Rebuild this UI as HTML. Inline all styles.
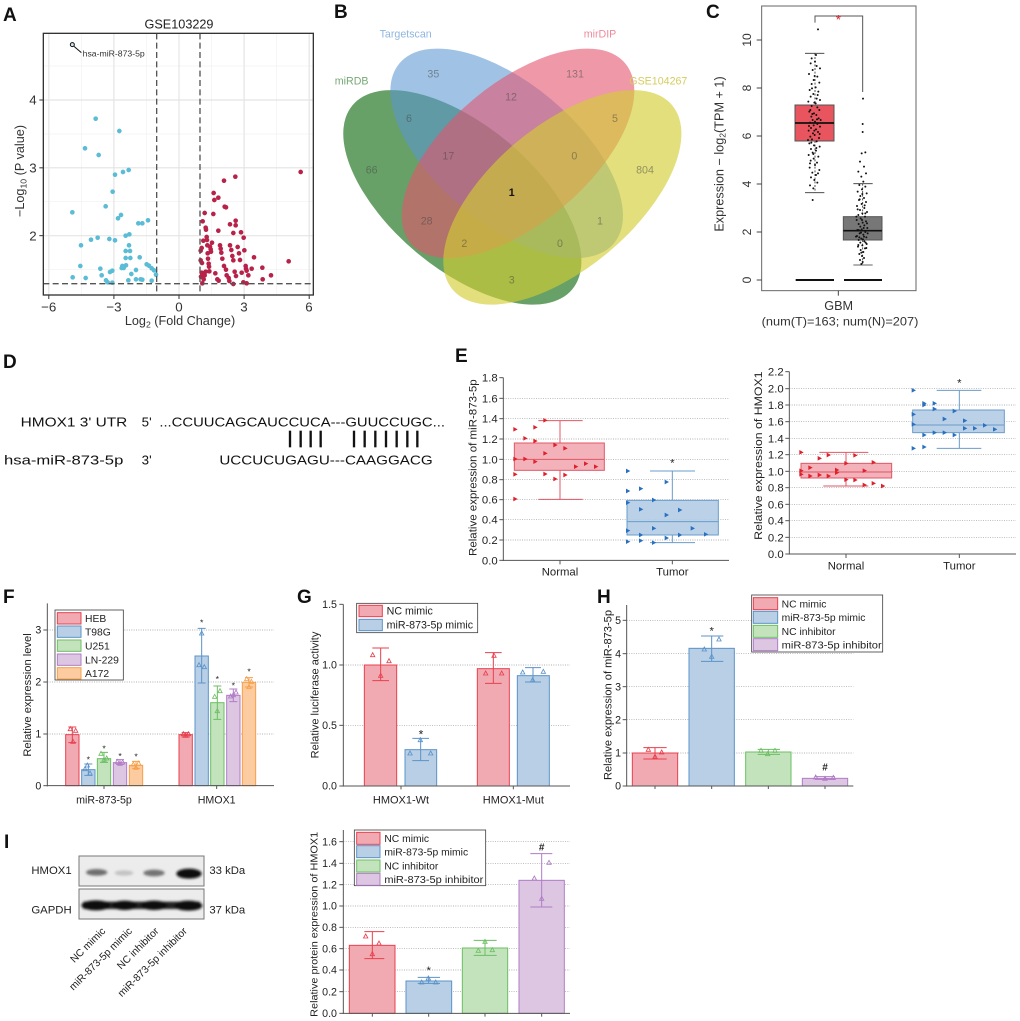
<!DOCTYPE html>
<html><head><meta charset="utf-8"><style>
html,body{margin:0;padding:0;background:#fff;}
svg{display:block;}
text{font-family:"Liberation Sans",Arial,sans-serif;}
</style></head><body>
<svg width="1020" height="1021" viewBox="0 0 1020 1021" xmlns="http://www.w3.org/2000/svg">
<defs>
<path id="tr" d="M-5,-7L8,0L-5,7Z"/>
<path id="ut" d="M0,-7L6.5,5L-6.5,5Z"/>
<filter id="bl" x="-50%" y="-100%" width="200%" height="300%"><feGaussianBlur stdDeviation="4"/></filter>
</defs>
<rect width="1020" height="1021" fill="#fff"/>

<g font-weight="bold" font-size="19" fill="#111">
<text x="3" y="21">A</text>
<text x="334" y="18">B</text>
<text x="706" y="18">C</text>
<text x="3" y="368">D</text>
<text x="455" y="362">E</text>
<text x="3" y="603">F</text>
<text x="297" y="603">G</text>
<text x="597" y="603">H</text>
<text x="4" y="848">I</text>
</g>

<!-- ================= PANEL A ================= -->
<svg x="0" y="0" width="330" height="330" viewBox="0 0 990 990" overflow="visible">
<rect x="130" y="100" width="810" height="785" fill="#fff"/>
<g stroke="#f1f1f1" stroke-width="2">
<line x1="244" y1="100" x2="244" y2="885"/><line x1="439.4" y1="100" x2="439.4" y2="885"/>
<line x1="634.7" y1="100" x2="634.7" y2="885"/><line x1="830" y1="100" x2="830" y2="885"/>
<line x1="130" y1="198" x2="940" y2="198"/><line x1="130" y1="402" x2="940" y2="402"/>
<line x1="130" y1="605" x2="940" y2="605"/><line x1="130" y1="809" x2="940" y2="809"/>
</g>
<g stroke="#e4e4e4" stroke-width="3.5">
<line x1="146.4" y1="100" x2="146.4" y2="885"/><line x1="341.7" y1="100" x2="341.7" y2="885"/>
<line x1="537" y1="100" x2="537" y2="885"/><line x1="732.3" y1="100" x2="732.3" y2="885"/>
<line x1="927.6" y1="100" x2="927.6" y2="885"/>
<line x1="130" y1="300" x2="940" y2="300"/><line x1="130" y1="503.5" x2="940" y2="503.5"/>
<line x1="130" y1="707" x2="940" y2="707"/>
</g>
<path fill="none" stroke="#5bbcd6" stroke-width="14" stroke-linecap="round" d="M255 445h0M296 465h0M287 356h0M358 393h0M345 524h0M369 516h0M386 510h0M338 575h0M317 619h0M354 655h0M363 645h0M217 637h0M243 736h0M273 719h0M293 713h0M328 717h0M345 721h0M377 707h0M388 703h0M415 670h0M427 670h0M444 661h0M387 736h0M377 753h0M390 753h0M377 774h0M391 774h0M419 772h0M241 798h0M301 806h0M305 826h0M330 816h0M337 812h0M367 798h0M378 796h0M365 804h0M371 804h0M408 810h0M394 822h0M440 793h0M447 797h0M455 805h0M462 811h0M468 824h0M218 832h0M257 834h0M318 841h0M323 847h0M337 848h0M385 841h0M408 838h0M422 838h0M427 839h0M455 842h0"/>
<path fill="none" stroke="#b82248" stroke-width="14" stroke-linecap="round" d="M605 744h0M602 752h0M602 781h0M606 789h0M605 818h0M603 830h0M607 850h0M611 838h0M614 826h0M617 815h0M610 722h0M608 664h0M614 639h0M617 683h0M618 689h0M620 711h0M621 720h0M622 736h0M623 760h0M624 776h0M626 791h0M627 800h0M628 814h0M630 740h0M632 748h0M633 755h0M636 728h0M640 642h0M641 579h0M643 600h0M655 593h0M672 542h0M674 620h0M678 622h0M655 692h0M660 736h0M662 746h0M664 758h0M667 776h0M672 798h0M678 809h0M680 826h0M686 834h0M688 843h0M690 736h0M694 750h0M697 768h0M700 781h0M704 815h0M708 828h0M690 673h0M700 699h0M706 530h0M707 662h0M707 676h0M713 741h0M717 760h0M720 780h0M725 818h0M730 847h0M733 751h0M737 798h0M740 812h0M745 826h0M755 806h0M762 772h0M787 803h0M788 838h0M813 826h0M866 784h0M902 516h0M723 697h0M731 713h0M646 820h0M652 838h0M656 842h0M700 852h0M740 850h0M738 806h0"/>
<g stroke="#555" stroke-width="4" stroke-dasharray="18 10" fill="none">
<line x1="470" y1="100" x2="470" y2="885"/>
<line x1="600" y1="100" x2="600" y2="885"/>
<line x1="130" y1="851" x2="940" y2="851"/>
</g>
<circle cx="217" cy="134" r="6" fill="#cfeaf2" stroke="#111" stroke-width="3"/>
<line x1="222" y1="139" x2="244" y2="158" stroke="#111" stroke-width="3"/>
<text x="248" y="170" font-size="26" fill="#333">hsa-miR-873-5p</text>
<rect x="130" y="100" width="810" height="785" fill="none" stroke="#333" stroke-width="4"/>
<g stroke="#333" stroke-width="3">
<line x1="146.4" y1="885" x2="146.4" y2="897"/><line x1="341.7" y1="885" x2="341.7" y2="897"/>
<line x1="537" y1="885" x2="537" y2="897"/><line x1="732.3" y1="885" x2="732.3" y2="897"/>
<line x1="927.6" y1="885" x2="927.6" y2="897"/>
<line x1="118" y1="300" x2="130" y2="300"/><line x1="118" y1="503.5" x2="130" y2="503.5"/><line x1="118" y1="707" x2="130" y2="707"/>
</g>
<g font-size="40" fill="#333" text-anchor="middle">
<text x="146" y="935">−6</text><text x="342" y="935">−3</text><text x="537" y="935">0</text><text x="732" y="935">3</text><text x="927" y="935">6</text>
</g>
<g font-size="40" fill="#333" text-anchor="end">
<text x="110" y="314">4</text><text x="110" y="517">3</text><text x="110" y="721">2</text>
</g>
<text x="537" y="86" font-size="38" fill="#222" text-anchor="middle">GSE103229</text>
<text x="540" y="975" font-size="38" fill="#333" text-anchor="middle">Log<tspan font-size="26" dy="8">2</tspan><tspan dy="-8"> (Fold Change)</tspan></text>
<text transform="translate(72,513) rotate(-90)" font-size="38" fill="#333" text-anchor="middle">−Log<tspan font-size="26" dy="8">10</tspan><tspan dy="-8"> (P value)</tspan></text>
</svg>

<!-- ================= PANEL B ================= -->
<svg x="330" y="0" width="360" height="330" viewBox="0 0 1080 990" overflow="visible">
<ellipse cx="397" cy="592" rx="430" ry="215" transform="rotate(40 397 592)" fill="rgb(45,125,45)" fill-opacity="0.72"/>
<ellipse cx="530" cy="460" rx="420" ry="210" transform="rotate(40 530 460)" fill="rgb(90,150,210)" fill-opacity="0.58"/>
<ellipse cx="564" cy="460" rx="420" ry="210" transform="rotate(-40 564 460)" fill="rgb(228,85,110)" fill-opacity="0.6"/>
<ellipse cx="697" cy="592" rx="430" ry="215" transform="rotate(-40 697 592)" fill="rgb(210,205,50)" fill-opacity="0.64"/>
<g font-size="32" fill="#444" fill-opacity="0.5" text-anchor="middle">
<text x="310" y="232">35</text><text x="735" y="232">131</text><text x="543" y="301">12</text>
<text x="237" y="366">6</text><text x="855" y="366">5</text><text x="125" y="521">66</text>
<text x="355" y="478">17</text><text x="733" y="478">0</text><text x="945" y="521">804</text>
<text x="290" y="674">28</text><text x="810" y="674">1</text><text x="403" y="741">2</text>
<text x="690" y="741">0</text><text x="545" y="851">3</text>
</g>
<text x="545" y="588" font-size="32" font-weight="bold" fill="#111" text-anchor="middle">1</text>
<g font-size="32" text-anchor="middle">
<text x="227" y="112" fill="#8fb6e0">Targetscan</text>
<text x="810" y="112" fill="#ef8a9c">mirDIP</text>
<text x="65" y="254" fill="#74a874">miRDB</text>
<text x="985" y="254" fill="#d6cc5e">GSE104267</text>
</g>
</svg>

<!-- ================= PANEL C ================= -->
<svg x="680" y="0" width="340" height="335" viewBox="0 0 1020 1005" overflow="visible">
<rect x="245" y="18" width="463" height="854" fill="#fff" stroke="#666" stroke-width="3"/>
<g stroke="#444" stroke-width="3">
<line x1="230" y1="120" x2="245" y2="120"/><line x1="230" y1="264" x2="245" y2="264"/>
<line x1="230" y1="408" x2="245" y2="408"/><line x1="230" y1="552" x2="245" y2="552"/>
<line x1="230" y1="696" x2="245" y2="696"/><line x1="230" y1="840" x2="245" y2="840"/>
<line x1="475" y1="872" x2="475" y2="887"/>
</g>
<g font-size="36" fill="#333" text-anchor="middle">
<text transform="translate(213,120) rotate(-90)">10</text>
<text transform="translate(213,264) rotate(-90)">8</text>
<text transform="translate(213,408) rotate(-90)">6</text>
<text transform="translate(213,552) rotate(-90)">4</text>
<text transform="translate(213,696) rotate(-90)">2</text>
<text transform="translate(213,840) rotate(-90)">0</text>
</g>
<text transform="translate(130,462) rotate(-90)" font-size="38" fill="#333" text-anchor="middle">Expression − log<tspan font-size="26" dy="6">2</tspan><tspan dy="-6">(TPM + 1)</tspan></text>
<text x="476" y="930" font-size="38" fill="#333" text-anchor="middle">GBM</text>
<text x="480" y="976" font-size="36" fill="#333" text-anchor="middle" textLength="470" lengthAdjust="spacingAndGlyphs">(num(T)=163; num(N)=207)</text>
<!-- whiskers -->
<g stroke="#333" stroke-width="2.5">
<line x1="405" y1="160" x2="405" y2="315" stroke-dasharray="6 5"/>
<line x1="405" y1="423" x2="405" y2="578" stroke-dasharray="6 5"/>
<line x1="375" y1="160" x2="433" y2="160"/><line x1="375" y1="578" x2="433" y2="578"/>
<line x1="548" y1="551" x2="548" y2="650" stroke-dasharray="6 5"/>
<line x1="548" y1="720" x2="548" y2="795" stroke-dasharray="6 5"/>
<line x1="520" y1="551" x2="578" y2="551"/><line x1="520" y1="795" x2="578" y2="795"/>
</g>
<rect x="345" y="315" width="117" height="108" fill="#e8555f" stroke="#555" stroke-width="3"/>
<rect x="490" y="650" width="116" height="70" fill="#777" stroke="#555" stroke-width="3"/>
<line x1="345" y1="369" x2="462" y2="369" stroke="#111" stroke-width="5"/>
<line x1="490" y1="692" x2="606" y2="692" stroke="#111" stroke-width="5"/>
<line x1="347" y1="840" x2="462" y2="840" stroke="#111" stroke-width="6"/>
<line x1="492" y1="840" x2="606" y2="840" stroke="#111" stroke-width="6"/>
<path fill="none" stroke="#111" stroke-width="6" stroke-linecap="round" d="M414 88h0M405 185h0M392 190h0M410 198h0M398 210h0M420 205h0M387 222h0M412 230h0M401 240h0M395 252h0M418 248h0M407 262h0M389 270h0M415 275h0M400 282h0M392 290h0M410 296h0M420 300h0M385 305h0M403 308h0M395 318h0M412 322h0M418 330h0M388 335h0M402 340h0M409 345h0M394 350h0M416 355h0M398 360h0M405 365h0M390 368h0M412 372h0M401 376h0M420 380h0M393 384h0M408 388h0M386 392h0M414 396h0M399 400h0M404 405h0M391 410h0M417 414h0M396 418h0M410 424h0M388 430h0M402 436h0M419 440h0M393 447h0M408 452h0M398 458h0M386 465h0M415 470h0M401 476h0M392 482h0M411 488h0M405 495h0M389 503h0M418 510h0M397 518h0M408 525h0M393 532h0M403 540h0M412 548h0M390 556h0M400 565h0M398 600h0M384 420h0M422 360h0M391 330h0M407 310h0M413 285h0M396 265h0M404 228h0M395 175h0M408 165h0M397 342h0M411 358h0M387 378h0M403 392h0M419 402h0M394 428h0M409 444h0M400 462h0M390 490h0M414 520h0"/>
<path fill="none" stroke="#111" stroke-width="6" stroke-linecap="round" d="M549 296h0M548 372h0M548 396h0M545 460h0M556 457h0M540 485h0M552 500h0M535 515h0M558 520h0M544 530h0M550 545h0M538 555h0M556 560h0M546 568h0M533 575h0M560 580h0M541 588h0M552 594h0M537 600h0M558 606h0M545 612h0M531 618h0M553 624h0M540 630h0M561 636h0M547 640h0M535 645h0M555 650h0M542 655h0M530 660h0M558 664h0M548 668h0M536 672h0M553 676h0M541 680h0M562 684h0M545 688h0M533 692h0M556 696h0M539 700h0M550 704h0M531 708h0M559 712h0M544 716h0M536 720h0M553 724h0M541 728h0M560 732h0M547 736h0M534 740h0M555 745h0M542 750h0M550 756h0M538 762h0M546 768h0M552 774h0M540 780h0M548 786h0M544 792h0M556 640h0M532 690h0M563 700h0M528 710h0M546 660h0M551 684h0M538 712h0M557 728h0M543 698h0M549 718h0M535 735h0M561 670h0M529 650h0M554 616h0M539 598h0M547 582h0M533 628h0M559 744h0M544 758h0M552 710h0M536 690h0"/>
<path d="M405 68V48H548V276" fill="none" stroke="#555" stroke-width="3"/>
<text x="475" y="72" font-size="40" fill="#e8202a" text-anchor="middle">*</text>
</svg>

<!-- ================= PANEL D ================= -->
<svg x="0" y="335" width="460" height="250" viewBox="0 0 1380 750" overflow="visible">
<g font-size="40" fill="#111">
<text x="62" y="275" textLength="320" lengthAdjust="spacingAndGlyphs">HMOX1 3' UTR</text>
<text x="425" y="275">5'</text>
<text x="478" y="275" textLength="857" lengthAdjust="spacingAndGlyphs">...CCUUCAGCAUCCUCA---GUUCCUGC...</text>
<text x="12" y="388" textLength="358" lengthAdjust="spacingAndGlyphs">hsa-miR-873-5p</text>
<text x="425" y="388">3'</text>
<text x="658" y="388" textLength="640" lengthAdjust="spacingAndGlyphs">UCCUCUGAGU---CAAGGACG</text>
</g>
<g stroke="#111" stroke-width="7">
<line x1="870" y1="287" x2="870" y2="337"/><line x1="902" y1="287" x2="902" y2="337"/>
<line x1="932" y1="287" x2="932" y2="337"/><line x1="962" y1="287" x2="962" y2="337"/>
<line x1="1062" y1="287" x2="1062" y2="337"/><line x1="1094" y1="287" x2="1094" y2="337"/>
<line x1="1126" y1="287" x2="1126" y2="337"/><line x1="1158" y1="287" x2="1158" y2="337"/>
<line x1="1190" y1="287" x2="1190" y2="337"/><line x1="1222" y1="287" x2="1222" y2="337"/>
<line x1="1252" y1="287" x2="1252" y2="337"/>
</g>
</svg>

<!-- ================= PANEL E left ================= -->
<svg x="455" y="335" width="290" height="255" viewBox="0 0 870 765" overflow="visible">
<g stroke="#999" stroke-width="2" stroke-dasharray="3 4">
<line x1="145" y1="190" x2="822" y2="190"/><line x1="145" y1="251" x2="822" y2="251"/>
<line x1="145" y1="312" x2="822" y2="312"/><line x1="145" y1="373" x2="822" y2="373"/>
<line x1="145" y1="434" x2="822" y2="434"/><line x1="145" y1="494" x2="822" y2="494"/>
<line x1="145" y1="554" x2="822" y2="554"/><line x1="145" y1="615" x2="822" y2="615"/>
</g>
<g stroke="#555" stroke-width="3">
<line x1="145" y1="128" x2="145" y2="678"/><line x1="143" y1="676" x2="822" y2="676"/>
<line x1="133" y1="128" x2="145" y2="128"/><line x1="133" y1="190" x2="145" y2="190"/><line x1="133" y1="251" x2="145" y2="251"/>
<line x1="133" y1="312" x2="145" y2="312"/><line x1="133" y1="373" x2="145" y2="373"/><line x1="133" y1="434" x2="145" y2="434"/>
<line x1="133" y1="494" x2="145" y2="494"/><line x1="133" y1="554" x2="145" y2="554"/><line x1="133" y1="615" x2="145" y2="615"/>
<line x1="133" y1="676" x2="145" y2="676"/>
<line x1="315" y1="676" x2="315" y2="688"/><line x1="652" y1="676" x2="652" y2="688"/>
</g>
<g font-size="34" fill="#222" text-anchor="end">
<text x="128" y="140">1.8</text><text x="128" y="202">1.6</text><text x="128" y="263">1.4</text>
<text x="128" y="324">1.2</text><text x="128" y="385">1.0</text><text x="128" y="446">0.8</text>
<text x="128" y="506">0.6</text><text x="128" y="566">0.4</text><text x="128" y="627">0.2</text>
<text x="128" y="688">0.0</text>
</g>
<g font-size="34" fill="#222" text-anchor="middle">
<text x="315" y="722">Normal</text><text x="652" y="722">Tumor</text>
</g>
<text transform="translate(64,398) rotate(-90)" font-size="32" fill="#222" text-anchor="middle" textLength="530" lengthAdjust="spacingAndGlyphs">Relative expression of miR-873-5p</text>
<g stroke="#e05866" stroke-width="3">
<line x1="315" y1="257" x2="315" y2="324"/><line x1="315" y1="406" x2="315" y2="493"/>
<line x1="250" y1="257" x2="383" y2="257"/><line x1="250" y1="493" x2="383" y2="493"/>
<rect x="178" y="324" width="270" height="82" fill="#f2a9b2" fill-opacity="0.9"/>
<line x1="178" y1="373" x2="448" y2="373"/>
</g>
<g stroke="#6a9ccc" stroke-width="3">
<line x1="652" y1="408" x2="652" y2="496"/><line x1="652" y1="600" x2="652" y2="623"/>
<line x1="585" y1="408" x2="720" y2="408"/><line x1="585" y1="623" x2="720" y2="623"/>
<rect x="516" y="496" width="274" height="104" fill="#b3cce6" fill-opacity="0.9"/>
<line x1="516" y1="560" x2="790" y2="560"/>
</g>
<g fill="#e0202a">
<use href="#tr" x="180" y="283"/><use href="#tr" x="210" y="310"/><use href="#tr" x="240" y="277"/><use href="#tr" x="240" y="318"/>
<use href="#tr" x="270" y="256"/><use href="#tr" x="270" y="355"/><use href="#tr" x="300" y="330"/><use href="#tr" x="330" y="340"/>
<use href="#tr" x="180" y="372"/><use href="#tr" x="210" y="372"/><use href="#tr" x="240" y="380"/><use href="#tr" x="180" y="418"/>
<use href="#tr" x="270" y="417"/><use href="#tr" x="300" y="432"/><use href="#tr" x="330" y="420"/><use href="#tr" x="362" y="395"/>
<use href="#tr" x="392" y="386"/><use href="#tr" x="422" y="395"/><use href="#tr" x="180" y="492"/>
</g>
<g fill="#2a70c0">
<use href="#tr" x="518" y="408"/><use href="#tr" x="518" y="468"/><use href="#tr" x="518" y="503"/><use href="#tr" x="518" y="587"/>
<use href="#tr" x="518" y="620"/><use href="#tr" x="557" y="461"/><use href="#tr" x="557" y="523"/><use href="#tr" x="557" y="600"/>
<use href="#tr" x="557" y="617"/><use href="#tr" x="596" y="495"/><use href="#tr" x="596" y="580"/><use href="#tr" x="596" y="623"/>
<use href="#tr" x="634" y="441"/><use href="#tr" x="634" y="540"/><use href="#tr" x="634" y="609"/><use href="#tr" x="674" y="525"/>
<use href="#tr" x="674" y="600"/><use href="#tr" x="712" y="580"/><use href="#tr" x="752" y="598"/>
</g>
<text x="652" y="394" font-size="34" fill="#222" text-anchor="middle">*</text>
</svg>

<!-- ================= PANEL E right ================= -->
<svg x="740" y="335" width="280" height="255" viewBox="0 0 840 765" overflow="visible">
<g stroke="#999" stroke-width="2" stroke-dasharray="3 4">
<line x1="148" y1="161" x2="828" y2="161"/><line x1="148" y1="210" x2="828" y2="210"/>
<line x1="148" y1="260" x2="828" y2="260"/><line x1="148" y1="310" x2="828" y2="310"/>
<line x1="148" y1="359" x2="828" y2="359"/><line x1="148" y1="409" x2="828" y2="409"/>
<line x1="148" y1="458" x2="828" y2="458"/><line x1="148" y1="508" x2="828" y2="508"/>
<line x1="148" y1="557" x2="828" y2="557"/><line x1="148" y1="607" x2="828" y2="607"/>
</g>
<g stroke="#555" stroke-width="3">
<line x1="148" y1="110" x2="148" y2="659"/><line x1="146" y1="657" x2="828" y2="657"/>
<line x1="136" y1="110" x2="148" y2="110"/><line x1="136" y1="161" x2="148" y2="161"/><line x1="136" y1="210" x2="148" y2="210"/>
<line x1="136" y1="260" x2="148" y2="260"/><line x1="136" y1="310" x2="148" y2="310"/><line x1="136" y1="359" x2="148" y2="359"/>
<line x1="136" y1="409" x2="148" y2="409"/><line x1="136" y1="458" x2="148" y2="458"/><line x1="136" y1="508" x2="148" y2="508"/>
<line x1="136" y1="557" x2="148" y2="557"/><line x1="136" y1="607" x2="148" y2="607"/><line x1="136" y1="657" x2="148" y2="657"/>
<line x1="318" y1="657" x2="318" y2="669"/><line x1="658" y1="657" x2="658" y2="669"/>
</g>
<g font-size="34" fill="#222" text-anchor="end">
<text x="131" y="122">2.2</text><text x="131" y="173">2.0</text><text x="131" y="222">1.8</text>
<text x="131" y="272">1.6</text><text x="131" y="322">1.4</text><text x="131" y="371">1.2</text>
<text x="131" y="421">1.0</text><text x="131" y="470">0.8</text><text x="131" y="520">0.6</text>
<text x="131" y="569">0.4</text><text x="131" y="619">0.2</text><text x="131" y="669">0.0</text>
</g>
<g font-size="34" fill="#222" text-anchor="middle">
<text x="318" y="703">Normal</text><text x="658" y="703">Tumor</text>
</g>
<text transform="translate(66,362) rotate(-90)" font-size="32" fill="#222" text-anchor="middle" textLength="505" lengthAdjust="spacingAndGlyphs">Relative expression of HMOX1</text>
<g stroke="#e05866" stroke-width="3">
<line x1="318" y1="352" x2="318" y2="385"/><line x1="318" y1="429" x2="318" y2="453"/>
<line x1="238" y1="352" x2="385" y2="352"/><line x1="250" y1="453" x2="385" y2="453"/>
<rect x="183" y="385" width="272" height="44" fill="#f2a9b2" fill-opacity="0.9"/>
<line x1="183" y1="411" x2="455" y2="411"/>
</g>
<g stroke="#6a9ccc" stroke-width="3">
<line x1="658" y1="166" x2="658" y2="225"/><line x1="658" y1="293" x2="658" y2="340"/>
<line x1="590" y1="166" x2="724" y2="166"/><line x1="590" y1="340" x2="724" y2="340"/>
<rect x="518" y="225" width="275" height="68" fill="#b3cce6" fill-opacity="0.9"/>
<line x1="518" y1="270" x2="793" y2="270"/>
</g>
<g fill="#e0202a">
<use href="#tr" x="183" y="352"/><use href="#tr" x="183" y="407"/><use href="#tr" x="183" y="418"/><use href="#tr" x="210" y="398"/>
<use href="#tr" x="210" y="423"/><use href="#tr" x="238" y="370"/><use href="#tr" x="238" y="420"/><use href="#tr" x="265" y="360"/>
<use href="#tr" x="265" y="423"/><use href="#tr" x="290" y="405"/><use href="#tr" x="290" y="413"/><use href="#tr" x="318" y="385"/>
<use href="#tr" x="318" y="434"/><use href="#tr" x="345" y="361"/><use href="#tr" x="345" y="435"/><use href="#tr" x="373" y="407"/>
<use href="#tr" x="373" y="450"/><use href="#tr" x="400" y="382"/><use href="#tr" x="400" y="445"/><use href="#tr" x="428" y="453"/>
</g>
<g fill="#2a70c0">
<use href="#tr" x="520" y="166"/><use href="#tr" x="520" y="238"/><use href="#tr" x="520" y="268"/><use href="#tr" x="520" y="340"/>
<use href="#tr" x="552" y="205"/><use href="#tr" x="552" y="210"/><use href="#tr" x="552" y="300"/><use href="#tr" x="552" y="336"/>
<use href="#tr" x="583" y="205"/><use href="#tr" x="583" y="222"/><use href="#tr" x="583" y="293"/><use href="#tr" x="613" y="252"/>
<use href="#tr" x="613" y="293"/><use href="#tr" x="643" y="228"/><use href="#tr" x="643" y="300"/><use href="#tr" x="674" y="257"/>
<use href="#tr" x="674" y="280"/><use href="#tr" x="704" y="280"/><use href="#tr" x="734" y="271"/><use href="#tr" x="764" y="283"/>
</g>
<text x="658" y="155" font-size="34" fill="#222" text-anchor="middle">*</text>
</svg>

<!-- ================= PANEL F ================= -->
<svg x="0" y="585" width="300" height="240" viewBox="0 0 900 720" overflow="visible">
<g stroke="#999" stroke-width="2" stroke-dasharray="3 4">
<line x1="142" y1="447" x2="822" y2="447"/><line x1="142" y1="291" x2="822" y2="291"/><line x1="142" y1="135" x2="822" y2="135"/>
</g>
<g stroke-width="3">
<rect x="197" y="449" width="40" height="153" fill="#f2aab2" stroke="#e8404e"/>
<rect x="245" y="554" width="40" height="48" fill="#b8cfe6" stroke="#5b93c9"/>
<rect x="292" y="521" width="40" height="81" fill="#c3e3bd" stroke="#6cbf63"/>
<rect x="340" y="533" width="40" height="69" fill="#dcc6e2" stroke="#b07cc6"/>
<rect x="388" y="541" width="40" height="61" fill="#fccca0" stroke="#f7a04a"/>
<rect x="537" y="449" width="40" height="153" fill="#f2aab2" stroke="#e8404e"/>
<rect x="585" y="213" width="40" height="389" fill="#b8cfe6" stroke="#5b93c9"/>
<rect x="632" y="353" width="40" height="249" fill="#c3e3bd" stroke="#6cbf63"/>
<rect x="680" y="331" width="40" height="271" fill="#dcc6e2" stroke="#b07cc6"/>
<rect x="727" y="292" width="40" height="310" fill="#fccca0" stroke="#f7a04a"/>
</g>
<g stroke-width="3" fill="none">
<path stroke="#e8404e" d="M217 426V473M205 426H229M205 473H229M557 443V456M545 443H569M545 456H569"/>
<path stroke="#5b93c9" d="M265 537V571M253 537H277M253 571H277M605 130V294M593 130H617M593 294H617"/>
<path stroke="#6cbf63" d="M312 502V532M300 502H324M300 532H324M652 303V403M640 303H664M640 403H664"/>
<path stroke="#b07cc6" d="M360 524V538M348 524H372M348 538H372M700 312V350M688 312H712M688 350H712"/>
<path stroke="#f7a04a" d="M408 529V550M396 529H420M396 550H420M747 278V306M735 278H759M735 306H759"/>
</g>
<g fill="none" stroke-width="2.5">
<g stroke="#e8404e"><use href="#ut" x="211" y="432"/><use href="#ut" x="227" y="437"/><use href="#ut" x="219" y="470"/><use href="#ut" x="550" y="447"/><use href="#ut" x="565" y="447"/><use href="#ut" x="557" y="452"/></g>
<g stroke="#5b93c9"><use href="#ut" x="255" y="552"/><use href="#ut" x="270" y="565"/><use href="#ut" x="262" y="541"/><use href="#ut" x="597" y="240"/><use href="#ut" x="613" y="246"/><use href="#ut" x="605" y="145"/></g>
<g stroke="#6cbf63"><use href="#ut" x="303" y="506"/><use href="#ut" x="320" y="520"/><use href="#ut" x="312" y="524"/><use href="#ut" x="644" y="335"/><use href="#ut" x="660" y="318"/><use href="#ut" x="652" y="378"/></g>
<g stroke="#b07cc6"><use href="#ut" x="352" y="530"/><use href="#ut" x="368" y="532"/><use href="#ut" x="360" y="536"/><use href="#ut" x="692" y="334"/><use href="#ut" x="708" y="322"/><use href="#ut" x="700" y="330"/></g>
<g stroke="#f7a04a"><use href="#ut" x="400" y="538"/><use href="#ut" x="416" y="535"/><use href="#ut" x="408" y="548"/><use href="#ut" x="740" y="282"/><use href="#ut" x="754" y="290"/><use href="#ut" x="747" y="306"/></g>
</g>
<g font-size="26" fill="#222" text-anchor="middle">
<text x="265" y="532">*</text><text x="312" y="500">*</text><text x="360" y="522">*</text><text x="408" y="524">*</text>
<text x="605" y="122">*</text><text x="652" y="291">*</text><text x="700" y="311">*</text><text x="747" y="268">*</text>
</g>
<g stroke="#555" stroke-width="3">
<line x1="142" y1="55" x2="142" y2="604"/><line x1="140" y1="602" x2="822" y2="602"/>
<line x1="130" y1="602" x2="142" y2="602"/><line x1="130" y1="447" x2="142" y2="447"/><line x1="130" y1="291" x2="142" y2="291"/><line x1="130" y1="135" x2="142" y2="135"/>
<line x1="312" y1="602" x2="312" y2="612"/><line x1="650" y1="602" x2="650" y2="612"/>
</g>
<g font-size="32" fill="#222" text-anchor="end">
<text x="124" y="613">0</text><text x="124" y="458">1</text><text x="124" y="302">2</text><text x="124" y="146">3</text>
</g>
<g font-size="32" fill="#222" text-anchor="middle">
<text x="312" y="656">miR-873-5p</text><text x="650" y="656">HMOX1</text>
</g>
<text transform="translate(93,330) rotate(-90)" font-size="32" fill="#222" text-anchor="middle" textLength="370" lengthAdjust="spacingAndGlyphs">Relative expression level</text>
<rect x="165" y="75" width="205" height="210" fill="#fff" stroke="#444" stroke-width="2.5"/>
<g stroke-width="3">
<rect x="172" y="83" width="71" height="34" fill="#f2aab2" stroke="#e8404e"/>
<rect x="172" y="123" width="71" height="34" fill="#b8cfe6" stroke="#5b93c9"/>
<rect x="172" y="165" width="71" height="34" fill="#c3e3bd" stroke="#6cbf63"/>
<rect x="172" y="207" width="71" height="34" fill="#dcc6e2" stroke="#b07cc6"/>
<rect x="172" y="248" width="71" height="34" fill="#fccca0" stroke="#f7a04a"/>
</g>
<g font-size="31" fill="#222">
<text x="255" y="111">HEB</text><text x="255" y="151">T98G</text><text x="255" y="193">U251</text><text x="255" y="235">LN-229</text><text x="255" y="276">A172</text>
</g>
</svg>

<!-- ================= PANEL G ================= -->
<svg x="295" y="585" width="300" height="240" viewBox="0 0 900 720" overflow="visible">
<g stroke="#999" stroke-width="2" stroke-dasharray="3 4">
<line x1="145" y1="421" x2="825" y2="421"/><line x1="145" y1="240" x2="825" y2="240"/>
</g>
<g stroke-width="3">
<rect x="208" y="240" width="97" height="363" fill="#f2aab2" stroke="#e8404e"/>
<rect x="330" y="494" width="95" height="109" fill="#b8cfe6" stroke="#5b93c9"/>
<rect x="547" y="251" width="96" height="352" fill="#f2aab2" stroke="#e8404e"/>
<rect x="667" y="272" width="96" height="331" fill="#b8cfe6" stroke="#5b93c9"/>
</g>
<g stroke-width="3" fill="none">
<path stroke="#e8404e" d="M257 189V287M232 189H282M232 287H282M595 203V295M570 203H620M570 295H620"/>
<path stroke="#5b93c9" d="M377 460V527M352 460H402M352 527H402M714 248V291M690 248H738M690 291H738"/>
</g>
<g fill="none" stroke-width="2.5">
<g stroke="#e8404e"><use href="#ut" x="233" y="210"/><use href="#ut" x="282" y="228"/><use href="#ut" x="257" y="272"/><use href="#ut" x="572" y="265"/><use href="#ut" x="597" y="212"/><use href="#ut" x="620" y="265"/></g>
<g stroke="#5b93c9"><use href="#ut" x="345" y="505"/><use href="#ut" x="376" y="465"/><use href="#ut" x="407" y="505"/><use href="#ut" x="683" y="262"/><use href="#ut" x="713" y="285"/><use href="#ut" x="745" y="260"/></g>
</g>
<text x="378" y="460" font-size="36" fill="#222" text-anchor="middle">*</text>
<g stroke="#555" stroke-width="3">
<line x1="145" y1="58" x2="145" y2="605"/><line x1="143" y1="603" x2="825" y2="603"/>
<line x1="133" y1="603" x2="145" y2="603"/><line x1="133" y1="421" x2="145" y2="421"/><line x1="133" y1="240" x2="145" y2="240"/><line x1="133" y1="58" x2="145" y2="58"/>
<line x1="318" y1="603" x2="318" y2="613"/><line x1="655" y1="603" x2="655" y2="613"/>
</g>
<g font-size="32" fill="#222" text-anchor="end">
<text x="126" y="614">0.0</text><text x="126" y="432">0.5</text><text x="126" y="251">1.0</text><text x="126" y="69">1.5</text>
</g>
<g font-size="33" fill="#222" text-anchor="middle">
<text x="318" y="656">HMOX1-Wt</text><text x="655" y="656">HMOX1-Mut</text>
</g>
<text transform="translate(70,330) rotate(-90)" font-size="32" fill="#222" text-anchor="middle" textLength="380" lengthAdjust="spacingAndGlyphs">Relative luciferase activity</text>
<rect x="185" y="55" width="363" height="88" fill="#fff" stroke="#444" stroke-width="2.5"/>
<g stroke-width="3">
<rect x="192" y="61" width="70" height="34" fill="#f2aab2" stroke="#e8404e"/>
<rect x="192" y="103" width="70" height="34" fill="#b8cfe6" stroke="#5b93c9"/>
</g>
<g font-size="32" fill="#222">
<text x="275" y="89">NC mimic</text><text x="275" y="131">miR-873-5p mimic</text>
</g>
</svg>

<!-- ================= PANEL H ================= -->
<svg x="595" y="585" width="425" height="240" viewBox="0 0 1275 720" overflow="visible">
<g stroke="#999" stroke-width="2" stroke-dasharray="3 4">
<line x1="95" y1="504" x2="775" y2="504"/><line x1="95" y1="404" x2="775" y2="404"/><line x1="95" y1="305" x2="775" y2="305"/>
<line x1="95" y1="206" x2="775" y2="206"/><line x1="95" y1="106" x2="775" y2="106"/>
</g>
<g stroke-width="3">
<rect x="112" y="504" width="136" height="99" fill="#f2aab2" stroke="#e8404e"/>
<rect x="282" y="190" width="136" height="413" fill="#b8cfe6" stroke="#5b93c9"/>
<rect x="452" y="501" width="136" height="102" fill="#c3e3bd" stroke="#6cbf63"/>
<rect x="622" y="580" width="136" height="23" fill="#dcc6e2" stroke="#b07cc6"/>
</g>
<g stroke-width="3" fill="none">
<path stroke="#e8404e" d="M180 488V522M145 488H215M145 522H215"/>
<path stroke="#5b93c9" d="M350 153V229M318 153H385M318 229H385"/>
<path stroke="#6cbf63" d="M520 493V508M488 493H555M488 508H555"/>
<path stroke="#b07cc6" d="M690 575V583M660 575H720M660 583H720"/>
</g>
<g fill="none" stroke-width="2.5">
<g stroke="#e8404e"><use href="#ut" x="160" y="494"/><use href="#ut" x="180" y="515"/><use href="#ut" x="200" y="502"/></g>
<g stroke="#5b93c9"><use href="#ut" x="328" y="193"/><use href="#ut" x="350" y="215"/><use href="#ut" x="372" y="163"/></g>
<g stroke="#6cbf63"><use href="#ut" x="498" y="497"/><use href="#ut" x="518" y="507"/><use href="#ut" x="540" y="497"/></g>
<g stroke="#b07cc6"><use href="#ut" x="662" y="577"/><use href="#ut" x="690" y="581"/><use href="#ut" x="715" y="578"/></g>
</g>
<text x="350" y="149" font-size="34" fill="#222" text-anchor="middle">*</text>
<text x="690" y="556" font-size="30" font-weight="bold" fill="#222" text-anchor="middle">#</text>
<g stroke="#555" stroke-width="3">
<line x1="95" y1="60" x2="95" y2="605"/><line x1="93" y1="603" x2="775" y2="603"/>
<line x1="83" y1="603" x2="95" y2="603"/><line x1="83" y1="504" x2="95" y2="504"/><line x1="83" y1="404" x2="95" y2="404"/>
<line x1="83" y1="305" x2="95" y2="305"/><line x1="83" y1="206" x2="95" y2="206"/><line x1="83" y1="106" x2="95" y2="106"/>
<line x1="180" y1="603" x2="180" y2="612"/><line x1="350" y1="603" x2="350" y2="612"/><line x1="520" y1="603" x2="520" y2="612"/><line x1="690" y1="603" x2="690" y2="612"/>
</g>
<g font-size="32" fill="#222" text-anchor="end">
<text x="78" y="614">0</text><text x="78" y="515">1</text><text x="78" y="415">2</text><text x="78" y="316">3</text><text x="78" y="217">4</text><text x="78" y="117">5</text>
</g>
<text transform="translate(50,330) rotate(-90)" font-size="32" fill="#222" text-anchor="middle" textLength="510" lengthAdjust="spacingAndGlyphs">Relative expression of miR-873-5p</text>
<rect x="470" y="30" width="393" height="171" fill="#fff" stroke="#444" stroke-width="2.5"/>
<g stroke-width="3">
<rect x="475" y="38" width="73" height="36" fill="#f2aab2" stroke="#e8404e"/>
<rect x="475" y="79" width="73" height="36" fill="#b8cfe6" stroke="#5b93c9"/>
<rect x="475" y="121" width="73" height="36" fill="#c3e3bd" stroke="#6cbf63"/>
<rect x="475" y="161" width="73" height="36" fill="#dcc6e2" stroke="#b07cc6"/>
</g>
<g font-size="31" fill="#222">
<text x="560" y="67">NC mimic</text><text x="560" y="108">miR-873-5p mimic</text><text x="560" y="150">NC inhibitor</text><text x="560" y="190" textLength="300" lengthAdjust="spacingAndGlyphs">miR-873-5p inhibitor</text>
</g>
</svg>

<!-- ================= PANEL I blot ================= -->
<svg x="0" y="815" width="300" height="206" viewBox="0 0 900 618" overflow="visible">
<rect x="237" y="123" width="375" height="90" fill="#ececec" stroke="#777" stroke-width="3"/>
<rect x="237" y="222" width="375" height="90" fill="#ececec" stroke="#777" stroke-width="3"/>
<g filter="url(#bl)">
<ellipse cx="290" cy="172" rx="32" ry="10" fill="#444" fill-opacity="0.75"/>
<ellipse cx="372" cy="174" rx="28" ry="8" fill="#999" fill-opacity="0.5"/>
<ellipse cx="462" cy="174" rx="32" ry="10" fill="#444" fill-opacity="0.72"/>
<ellipse cx="567" cy="176" rx="38" ry="15" fill="#111"/>
<rect x="250" y="260" width="350" height="22" fill="#222"/>
<ellipse cx="288" cy="271" rx="44" ry="15" fill="#111"/>
<ellipse cx="374" cy="271" rx="38" ry="14" fill="#111"/>
<ellipse cx="462" cy="271" rx="40" ry="14" fill="#111"/>
<ellipse cx="565" cy="272" rx="42" ry="15" fill="#111"/>
</g>
<g font-size="34" fill="#222">
<text x="215" y="177" text-anchor="end">HMOX1</text>
<text x="215" y="295" text-anchor="end">GAPDH</text>
<text x="628" y="177">33 kDa</text>
<text x="628" y="295">37 kDa</text>
</g>
<g font-size="31" fill="#222" text-anchor="end">
<text transform="translate(318,350) rotate(-45)">NC mimic</text>
<text transform="translate(398,350) rotate(-45)">miR-873-5p mimic</text>
<text transform="translate(478,350) rotate(-45)">NC inhibitor</text>
<text transform="translate(563,350) rotate(-45)">miR-873-5p inhibitor</text>
</g>
</svg>

<!-- ================= PANEL I bar ================= -->
<svg x="295" y="815" width="300" height="206" viewBox="0 0 900 618" overflow="visible">
<g stroke="#999" stroke-width="2" stroke-dasharray="3 4">
<line x1="145" y1="80" x2="825" y2="80"/><line x1="145" y1="145" x2="825" y2="145"/><line x1="145" y1="209" x2="825" y2="209"/>
<line x1="145" y1="273" x2="825" y2="273"/><line x1="145" y1="337" x2="825" y2="337"/><line x1="145" y1="401" x2="825" y2="401"/>
<line x1="145" y1="465" x2="825" y2="465"/><line x1="145" y1="530" x2="825" y2="530"/>
</g>
<g stroke-width="3">
<rect x="163" y="391" width="137" height="204" fill="#f2aab2" stroke="#e8404e"/>
<rect x="333" y="498" width="137" height="97" fill="#b8cfe6" stroke="#5b93c9"/>
<rect x="502" y="399" width="136" height="196" fill="#c3e3bd" stroke="#6cbf63"/>
<rect x="672" y="196" width="136" height="399" fill="#dcc6e2" stroke="#b07cc6"/>
</g>
<g stroke-width="3" fill="none">
<path stroke="#e8404e" d="M232 350V431M208 350H268M208 431H268"/>
<path stroke="#5b93c9" d="M401 487V505M368 487H435M368 505H435"/>
<path stroke="#6cbf63" d="M570 376V421M536 376H605M536 421H605"/>
<path stroke="#b07cc6" d="M740 116V276M706 116H772M706 276H772"/>
</g>
<g fill="none" stroke-width="2.5">
<g stroke="#e8404e"><use href="#ut" x="212" y="364"/><use href="#ut" x="252" y="385"/><use href="#ut" x="232" y="417"/></g>
<g stroke="#5b93c9"><use href="#ut" x="380" y="502"/><use href="#ut" x="400" y="490"/><use href="#ut" x="422" y="502"/></g>
<g stroke="#6cbf63"><use href="#ut" x="550" y="407"/><use href="#ut" x="570" y="380"/><use href="#ut" x="592" y="405"/></g>
<g stroke="#b07cc6"><use href="#ut" x="718" y="190"/><use href="#ut" x="740" y="251"/><use href="#ut" x="762" y="143"/></g>
</g>
<text x="401" y="477" font-size="34" fill="#222" text-anchor="middle">*</text>
<text x="740" y="106" font-size="30" font-weight="bold" fill="#222" text-anchor="middle">#</text>
<g stroke="#555" stroke-width="3">
<line x1="145" y1="45" x2="145" y2="597"/><line x1="143" y1="595" x2="825" y2="595"/>
<line x1="133" y1="595" x2="145" y2="595"/><line x1="133" y1="530" x2="145" y2="530"/><line x1="133" y1="465" x2="145" y2="465"/>
<line x1="133" y1="401" x2="145" y2="401"/><line x1="133" y1="337" x2="145" y2="337"/><line x1="133" y1="273" x2="145" y2="273"/>
<line x1="133" y1="209" x2="145" y2="209"/><line x1="133" y1="145" x2="145" y2="145"/><line x1="133" y1="80" x2="145" y2="80"/>
<line x1="232" y1="595" x2="232" y2="605"/><line x1="401" y1="595" x2="401" y2="605"/><line x1="570" y1="595" x2="570" y2="605"/><line x1="740" y1="595" x2="740" y2="605"/>
</g>
<g font-size="32" fill="#222" text-anchor="end">
<text x="126" y="606">0.0</text><text x="126" y="541">0.2</text><text x="126" y="476">0.4</text><text x="126" y="412">0.6</text>
<text x="126" y="348">0.8</text><text x="126" y="284">1.0</text><text x="126" y="220">1.2</text><text x="126" y="156">1.4</text><text x="126" y="91">1.6</text>
</g>
<text transform="translate(68,328) rotate(-90)" font-size="31" fill="#222" text-anchor="middle" textLength="555" lengthAdjust="spacingAndGlyphs">Relative protein expression of HMOX1</text>
<rect x="178" y="45" width="394" height="167" fill="#fff" stroke="#444" stroke-width="2.5"/>
<g stroke-width="3">
<rect x="185" y="52" width="70" height="36" fill="#f2aab2" stroke="#e8404e"/>
<rect x="185" y="92" width="70" height="36" fill="#b8cfe6" stroke="#5b93c9"/>
<rect x="185" y="135" width="70" height="36" fill="#c3e3bd" stroke="#6cbf63"/>
<rect x="185" y="175" width="70" height="36" fill="#dcc6e2" stroke="#b07cc6"/>
</g>
<g font-size="31" fill="#222">
<text x="268" y="81">NC mimic</text><text x="268" y="121">miR-873-5p mimic</text><text x="268" y="164">NC inhibitor</text><text x="268" y="204" textLength="297" lengthAdjust="spacingAndGlyphs">miR-873-5p inhibitor</text>
</g>
</svg>

</svg>
</body></html>
